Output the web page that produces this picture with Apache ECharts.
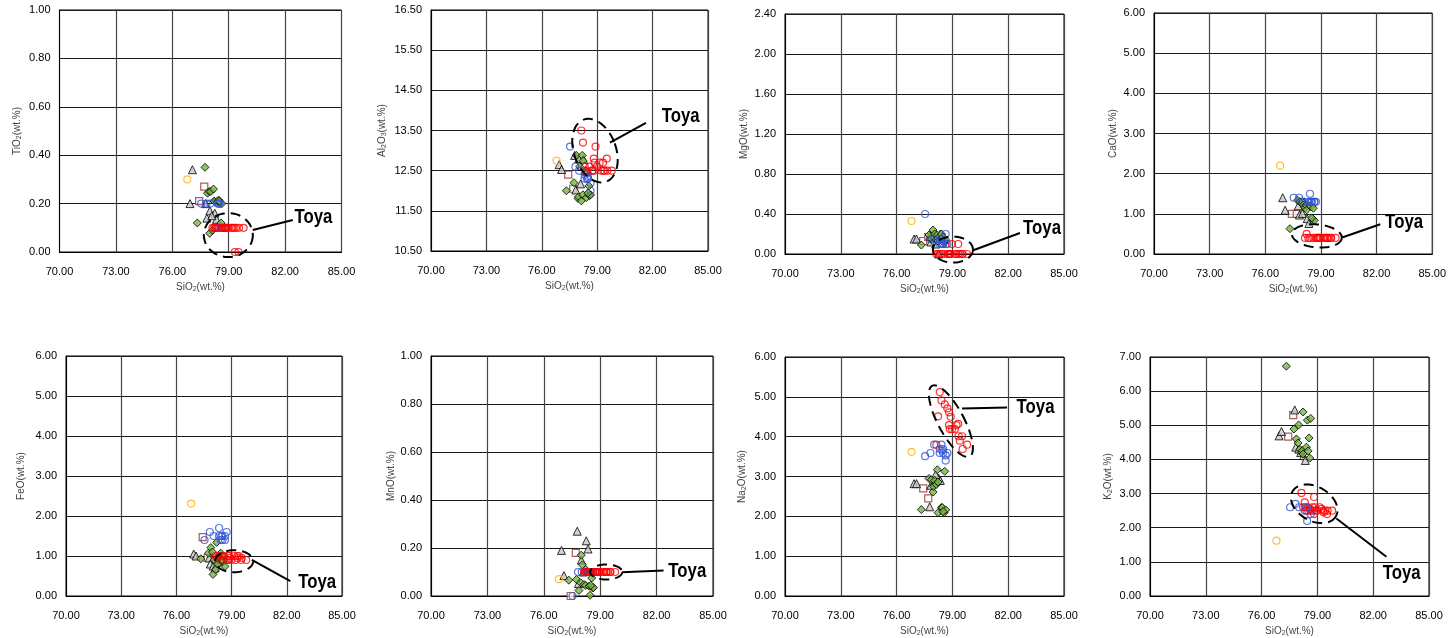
<!DOCTYPE html>
<html>
<head>
<meta charset="utf-8">
<script src="https://cdn.jsdelivr.net/npm/echarts@6/dist/echarts.min.js"></script>
<style>
html,body{margin:0;padding:0;background:#fff;}
#chart{width:1449px;height:638px;}
</style>
</head>
<body>
<div id="chart"></div>
<script>
// ---------------- DATA ----------------
// oxide order for each group array: TiO2, Al2O3, MgO, CaO, FeO, MnO, Na2O, K2O
const xTicks = ['70.00','73.00','76.00','79.00','82.00','85.00'];

// Toya (red open circles)
const toya_SiO2  = [78.32,78.23,78.41,78.59,78.73,78.82,78.91,78.82,78.86,78.98,79.13,79.22,79.31,79.33,79.52,79.40,79.55,79.79,78.14];
const toya_TiO2  = [0.10,0.10,0.10,0.10,0.10,0.10,0.10,0.10,0.10,0.10,0.10,0.10,0.10,0.00,0.00,0.10,0.10,0.10,0.10];
const toya_Al2O3 = [12.60,13.20,12.50,12.60,12.50,12.80,13.10,12.50,12.70,12.60,12.70,12.50,12.70,12.50,12.80,12.50,12.50,12.50,13.50];
const toya_MgO   = [0.00,0.00,0.00,0.00,0.00,0.00,0.00,0.00,0.00,0.10,0.00,0.00,0.10,0.00,0.00,0.00,0.00,0.00,0.00];
const toya_CaO   = [0.40,0.50,0.40,0.40,0.40,0.40,0.40,0.40,0.40,0.40,0.40,0.40,0.40,0.40,0.40,0.40,0.40,0.40,0.40];
const toya_FeO   = [1.00,0.95,0.90,1.00,0.90,1.00,0.95,0.90,1.00,0.90,1.00,0.90,1.00,0.95,0.90,1.00,0.95,0.90,1.00];
const toya_MnO   = [0.10,0.10,0.10,0.10,0.10,0.10,0.10,0.10,0.10,0.10,0.10,0.10,0.10,0.10,0.10,0.10,0.10,0.10,0.10];
const toya_Na2O  = [5.12,4.51,4.91,4.81,4.71,4.61,4.50,4.29,4.19,4.19,4.19,4.29,4.32,4.01,4.01,3.90,3.69,3.80,3.80];
const toya_K2O   = [2.74,2.60,2.50,2.55,2.60,2.90,2.50,2.40,2.60,2.50,2.60,2.55,2.50,2.45,2.40,2.50,2.50,2.50,3.02];

// blue open circles
const blue_SiO2  = [78.02,77.82,77.53,78.41,78.32,78.50,78.32,78.50,78.64,78.64,78.73,78.45];
const blue_TiO2  = [0.20,0.20,0.20,0.20,0.10,0.20,0.10,0.10,0.10,0.10,0.10,0.20];
const blue_Al2O3 = [12.50,12.60,13.10,12.45,12.40,12.30,12.30,12.35,12.20,12.00,12.50,12.30];
const blue_MgO   = [0.15,0.15,0.40,0.15,0.10,0.10,0.15,0.10,0.20,0.10,0.10,0.10];
const blue_CaO   = [1.30,1.40,1.40,1.50,1.30,1.30,1.30,1.30,1.30,1.30,1.30,1.30];
const blue_FeO   = [1.50,1.60,1.40,1.40,1.70,1.40,1.50,1.50,1.50,1.40,1.60,1.50];
const blue_MnO   = [0.10,0.10,0.00,0.10,0.10,0.10,0.10,0.10,0.10,0.10,0.10,0.10];
const blue_Na2O  = [3.80,3.59,3.51,3.80,3.69,3.69,3.59,3.59,3.53,3.40,3.59,3.65];
const blue_K2O   = [2.60,2.70,2.60,2.60,2.50,2.60,2.60,2.50,2.50,2.40,2.50,2.20];

// yellow open circle
const yel_SiO2  = [76.80];
const yel_TiO2  = [0.30];
const yel_Al2O3 = [12.75];
const yel_MgO   = [0.33];
const yel_CaO   = [2.20];
const yel_FeO   = [2.31];
const yel_MnO   = [0.07];
const yel_Na2O  = [3.62];
const yel_K2O   = [1.62];

// green diamonds
const dia_SiO2  = [77.33,77.74,77.87,77.96,77.99,78.05,78.14,78.19,78.23,78.23,78.41,78.46,78.55,78.59,78.64,78.50];
const dia_TiO2  = [0.12,0.35,0.243,0.25,0.077,0.25,0.09,0.26,0.21,0.21,0.21,0.215,0.20,0.12,0.20,0.21];
const dia_Al2O3 = [12.00,12.20,12.88,11.81,11.85,12.60,11.75,12.88,12.75,11.90,11.83,12.45,12.12,11.88,11.90,11.94];
const dia_MgO   = [0.09,0.19,0.15,0.24,0.12,0.20,0.14,0.19,0.16,0.13,0.20,0.15,0.11,0.13,0.14,0.17];
const dia_CaO   = [0.63,1.34,1.30,1.25,1.30,1.22,1.15,1.22,1.20,1.10,1.20,1.18,0.88,1.14,0.84,0.90];
const dia_FeO   = [0.93,1.07,1.21,1.10,0.54,0.90,0.66,1.34,0.80,0.95,1.07,1.00,0.85,0.99,0.74,0.90];
const dia_MnO   = [0.066,0.069,0.023,0.055,0.17,0.13,0.048,0.10,0.11,0.044,0.041,0.003,0.075,0.034,0.035,0.044];
const dia_Na2O  = [2.17,2.95,2.92,2.61,2.75,2.90,2.80,3.17,2.86,2.09,2.22,2.22,2.09,3.13,2.16,2.12];
const dia_K2O   = [6.73,4.89,4.60,4.48,5.01,4.30,4.20,4.26,5.39,4.16,4.36,5.15,4.63,4.04,5.20,4.25];

// gray triangles
const tri_SiO2  = [76.94,77.07,77.78,77.84,78.00,78.26,78.35,78.10];
const tri_TiO2  = [0.20,0.34,0.20,0.14,0.17,0.16,0.135,0.15];
const tri_Al2O3 = [12.65,12.53,12.88,12.02,12.80,12.78,12.50,12.17];
const tri_MgO   = [0.15,0.15,0.18,0.12,0.17,0.00,0.20,0.10];
const tri_CaO   = [1.40,1.09,1.20,0.97,1.01,0.88,0.76,1.30];
const tri_FeO   = [1.05,1.00,0.95,0.80,0.75,0.90,0.85,0.70];
const tri_MnO   = [0.19,0.085,0.27,0.052,0.15,0.23,0.196,0.10];
const tri_Na2O  = [2.82,2.82,2.24,2.78,2.86,2.96,2.90,3.05];
const tri_K2O   = [4.69,4.82,5.45,4.36,4.30,4.11,3.97,4.20];

// dark red open squares
const sq_SiO2  = [77.43,77.70];
const sq_TiO2  = [0.21,0.27];
const sq_Al2O3 = [12.40,12.05];
const sq_MgO   = [0.13,0.17];
const sq_CaO   = [1.00,1.00];
const sq_FeO   = [1.47,0.95];
const sq_MnO   = [0.00,0.18];
const sq_Na2O  = [2.70,2.45];
const sq_K2O   = [4.67,5.30];

// y axis ranges [min, max, step]
const yRanges = [[0,1,0.2],[10.5,16.5,1],[0,2.4,0.4],[0,6,1],[0,6,1],[0,1,0.2],[0,6,1],[0,7,1]];

// Toya annotations: ellipse centre (data), line start/end (data), label (data)
const annCentre = [[78.98,0.07],[78.88,13.0],[79.03,0.044],[78.78,0.45],[79.14,0.87],[79.32,0.10],[78.92,4.39],[78.83,2.70]];
const annLine   = [[80.28,0.091,82.41,0.132],[79.69,13.2,81.64,13.69],[80.12,0.037,82.63,0.21],[80.14,0.41,82.2,0.74],
                   [80.1,0.905,82.19,0.37],[80.15,0.099,82.37,0.106],[79.52,4.71,81.94,4.73],[80.02,2.27,82.71,1.15]];
const annLabel  = [[82.5,0.145],[82.49,13.86],[82.8,0.257],[82.46,0.80],[82.62,0.35],[82.62,0.103],[82.45,4.73],[82.51,0.67]];

// ---------------- LAYOUT / STYLE ----------------
const grids = [
  {left:59.5, top:10, width:282, height:242},
  {left:431, top:10, width:277, height:241},
  {left:785, top:14, width:279, height:240},
  {left:1154, top:13, width:280, height:241},
  {left:66, top:356, width:276, height:242},
  {left:431, top:356, width:282, height:242},
  {left:785, top:357, width:279, height:241},
  {left:1150, top:357, width:279, height:241}
];
const yNames = ['TiO{s|2}(wt.%)','Al{s|2}O{s|3}(wt.%)','MgO(wt.%)','CaO(wt.%)','FeO(wt.%)','MnO(wt.%)','Na{s|2}O(wt.%)','K{s|2}O(wt.%)'];
const yNameGaps = [37,43,36,36,40,35,37,36];
const ellipseGeom = [[24.5,22,0],[21,33,-20],[20,13,0],[25,11.5,5],[19,11,0],[16,7.5,0],[13,40,-28],[25,17,30]];

const groups = [
  {si:sq_SiO2, ox:[sq_TiO2,sq_Al2O3,sq_MgO,sq_CaO,sq_FeO,sq_MnO,sq_Na2O,sq_K2O], symbol:'rect', size:7,
    style:{color:'#ffffff', borderColor:'#993333', borderWidth:1.2}},
  {si:tri_SiO2, ox:[tri_TiO2,tri_Al2O3,tri_MgO,tri_CaO,tri_FeO,tri_MnO,tri_Na2O,tri_K2O], symbol:'triangle', size:8,
    style:{color:'#c8c8c8', borderColor:'#000', borderWidth:1}},
  {si:dia_SiO2, ox:[dia_TiO2,dia_Al2O3,dia_MgO,dia_CaO,dia_FeO,dia_MnO,dia_Na2O,dia_K2O], symbol:'diamond', size:8,
    style:{color:'#77b443', borderColor:'#000', borderWidth:1}},
  {si:yel_SiO2, ox:[yel_TiO2,yel_Al2O3,yel_MgO,yel_CaO,yel_FeO,yel_MnO,yel_Na2O,yel_K2O], symbol:'circle', size:7,
    style:{color:'rgba(0,0,0,0)', borderColor:'#ffb000', borderWidth:1.2}},
  {si:blue_SiO2, ox:[blue_TiO2,blue_Al2O3,blue_MgO,blue_CaO,blue_FeO,blue_MnO,blue_Na2O,blue_K2O], symbol:'circle', size:7,
    style:{color:'rgba(0,0,0,0)', borderColor:'#2f55d4', borderWidth:1.2}},
  {si:toya_SiO2, ox:[toya_TiO2,toya_Al2O3,toya_MgO,toya_CaO,toya_FeO,toya_MnO,toya_Na2O,toya_K2O], symbol:'circle', size:7,
    style:{color:'rgba(0,0,0,0)', borderColor:'#ff0000', borderWidth:1.2}}
];

const FONT = '"Liberation Sans", Arial, sans-serif';
const option = {animation:false, backgroundColor:'#fff', grid:[], xAxis:[], yAxis:[], series:[]};

grids.forEach((g, i) => {
  option.grid.push(Object.assign({show:true, borderColor:'#000', borderWidth:1, containLabel:false}, g));
  option.xAxis.push({
    type:'value', gridIndex:i, min:70, max:85, interval:3,
    name:'SiO{s|2}(wt.%)', nameLocation:'middle', nameGap:30,
    nameTextStyle:{fontSize:10, color:'#444', fontFamily:FONT, rich:{s:{fontSize:7, verticalAlign:'bottom', padding:[4,0,0,0], color:'#444'}}},
    axisLine:{show:true, lineStyle:{color:'#000', width:1}},
    axisTick:{show:false},
    axisLabel:{margin:14, fontSize:11, color:'#000', fontFamily:FONT, formatter:(v)=>xTicks[Math.round((v-70)/3)] || v.toFixed(2)},
    splitLine:{show:true, lineStyle:{color:'#444', width:1.2}}
  });
  const r = yRanges[i];
  option.yAxis.push({
    type:'value', gridIndex:i, min:r[0], max:r[1], interval:r[2],
    name:yNames[i], nameLocation:'middle', nameGap:yNameGaps[i], nameRotate:90,
    nameTextStyle:{fontSize:10, color:'#444', fontFamily:FONT, rich:{s:{fontSize:7, verticalAlign:'bottom', padding:[4,0,0,0], color:'#444'}}},
    axisLine:{show:true, lineStyle:{color:'#000', width:1}},
    axisTick:{show:false},
    axisLabel:{margin:9, fontSize:11, color:'#000', fontFamily:FONT, formatter:(v)=>v.toFixed(2)},
    splitLine:{show:true, lineStyle:{color:'#1a1a1a', width:1}}
  });
  groups.forEach((gr) => {
    option.series.push({
      type:'scatter', xAxisIndex:i, yAxisIndex:i, symbol:gr.symbol, symbolSize:gr.size,
      itemStyle:gr.style, silent:true,
      data: gr.si.map((s, k) => [s, gr.ox[i][k]])
    });
  });
  const c = annCentre[i], l = annLine[i], t = annLabel[i], e = ellipseGeom[i];
  option.series.push({
    type:'custom', xAxisIndex:i, yAxisIndex:i, silent:true, z:10, clip:false,
    data:[[c[0], c[1], e[0], e[1], e[2], l[0], l[1], l[2], l[3], t[0], t[1]]],
    renderItem:(params, api) => {
      const cc = api.coord([api.value(0), api.value(1)]);
      const rx = api.value(2), ry = api.value(3), rot = api.value(4) * Math.PI / 180;
      const pts = [];
      for (let k = 0; k <= 90; k++) {
        const th = k / 90 * 2 * Math.PI;
        const x = rx * Math.cos(th), y = ry * Math.sin(th);
        pts.push([cc[0] + x * Math.cos(rot) - y * Math.sin(rot), cc[1] + x * Math.sin(rot) + y * Math.cos(rot)]);
      }
      const p1 = api.coord([api.value(5), api.value(6)]);
      const p2 = api.coord([api.value(7), api.value(8)]);
      const pt = api.coord([api.value(9), api.value(10)]);
      return {type:'group', children:[
        {type:'polyline', shape:{points:pts}, style:{stroke:'#000', lineWidth:2, lineDash:[10,6], fill:null}},
        {type:'line', shape:{x1:p1[0], y1:p1[1], x2:p2[0], y2:p2[1]}, style:{stroke:'#000', lineWidth:2}},
        {type:'text', x:pt[0], y:pt[1], scaleX:0.8, scaleY:1, originX:0, originY:0,
          style:{text:'Toya', x:0, y:0, fill:'#000', font:'bold 21px "Liberation Sans", Arial, sans-serif', align:'left', verticalAlign:'middle'}}
      ]};
    }
  });
});

const chart = echarts.init(document.getElementById('chart'), null, {renderer:'canvas'});
chart.setOption(option);
</script>
</body>
</html>
